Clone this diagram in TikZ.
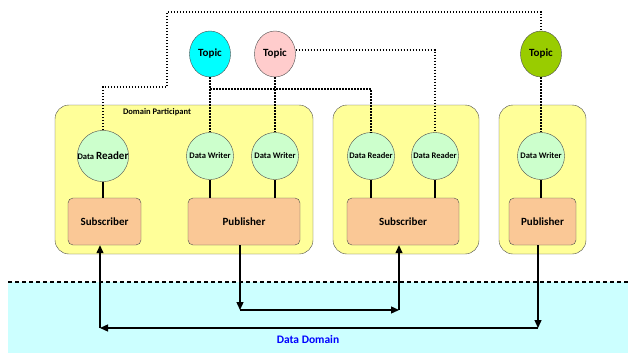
\documentclass[tikz,border=0pt]{standalone}
\usepackage{fontspec}
\setmainfont{Carlito}
\usepackage{tikz}
\usetikzlibrary{shapes.geometric}
\usetikzlibrary{calc,positioning,arrows.meta}

\definecolor{partyellow}{RGB}{255,255,153}
\definecolor{entorange}{RGB}{250,200,150}
\definecolor{endgreen}{RGB}{204,255,204}
\definecolor{topiccyan}{RGB}{0,255,255}
\definecolor{topicpink}{RGB}{255,204,204}
\definecolor{topicgreen}{RGB}{153,204,0}
\definecolor{domaincyan}{RGB}{204,255,255}

\begin{document}
\begin{tikzpicture}[x=1pt,y=-1pt]
 \useasboundingbox (0,0) rectangle (628,353);
 \coordinate (origo) at (0,0);

\tikzstyle{participant}=[draw=black!70,fill=partyellow,rounded corners=14pt,minimum height=149pt]
\tikzstyle{entity}=[draw=black!70,fill=entorange,rounded corners=5pt,minimum height=47pt,font=\bfseries\fontsize{11}{13}\selectfont]
\tikzstyle{endpoint}=[circle,draw=black!70,fill=endgreen,minimum size=47pt,inner sep=0pt,font=\bfseries\fontsize{8.5}{10}\selectfont]
\tikzstyle{topic}=[ellipse,draw=black!70,minimum width=41pt,minimum height=46pt,inner sep=0pt,font=\bfseries\fontsize{11}{13}\selectfont]
\tikzstyle{link}=[line width=1.5pt,dash pattern=on 1.5pt off 1.5pt]
\tikzstyle{flow}=[line width=1.3pt,-{Triangle[length=8pt,width=7pt]}]

   %data domain
    \fill[domaincyan] (8,282) rectangle (628,353);
    \draw[line width=1.3pt,dash pattern=on 4pt off 3pt] (8,282) -- (628,282);
    \node (domain_label) at (308,340) [text=blue,font=\bfseries\fontsize{11.5}{13}\selectfont] {Data Domain};

   %participants
   \node (P1) [participant,minimum width=258pt] at (184,179.5) {};
   \node (P2) [participant,minimum width=146pt] at (406,179.5) {};
   \node (P3) [participant,minimum width=87pt] at (542.5,179.5) {};
    \node (p1_label) at (157,112) [font=\bfseries\fontsize{8.5}{10}\selectfont] {Domain Participant};

   %readers and writers
   \node (dr1) [endpoint] at (103,156) {{\fontsize{8.5}{10}\selectfont Data} {\fontsize{11}{13}\selectfont Reader}};
   \node (dw1) [endpoint] at (210,156) {Data Writer};
   \node (dw2) [endpoint] at (275,156) {Data Writer};
   \node (dr2) [endpoint] at (371,156) {Data Reader};
   \node (dr3) [endpoint] at (435,156) {Data Reader};
   \node (dw3) [endpoint] at (541,156) {Data Writer};

   \node (sub1) [entity,minimum width=73pt] at (104.5,221.5) {Subscriber};
   \node (pub1) [entity,minimum width=112pt] at (244,221.5) {Publisher};
   \node (sub2) [entity,minimum width=112pt] at (403,221.5) {Subscriber};
   \node (pub3) [entity,minimum width=67pt] at (542.5,221.5) {Publisher};

   \foreach \e/\b in {dr1/sub1,dw1/pub1,dw2/pub1,dr2/sub2,dr3/sub2,dw3/pub3}
    \draw[line width=1.3pt] (\e.south) -- (\e.south |- \b.north);

   %topics
   \node (topic1) [topic,fill=topiccyan] at (210,54) {Topic};
   \node (topic2) [topic,fill=topicpink] at (275,54) {Topic};
   \node (topic3) [topic,fill=topicgreen] at (541,54) {Topic};

    \coordinate (bend1) at (167,87);
    \coordinate (bend2) at (210,89);
    \draw[link] (dr1.north) |- (bend1) -- ++(0,-75) -| (topic3.north);
    \draw[link] (topic1.south) -- (dw1.north);
    \draw[link] (topic2.south) -- (dw2.north);
    \draw[link] (bend2) -| (dr2.north);
    \draw[link] ([yshift=4pt]topic2.east) -| (dr3.north);
    \draw[link] (topic3.south) -- (dw3.north);

   %data flow
    \coordinate (m1) at (240,310);
    \coordinate (m2) at (399,310);
    \coordinate (n1) at (538,328);
    \coordinate (n2) at (100,328);
    \draw[flow] ([xshift=-4pt]pub1.south) -- (m1);
    \draw[flow] (m1) -- (m2);
    \draw[flow] (m2) -- ([xshift=-4pt]sub2.south);
    \draw[flow] ([xshift=-4.5pt]pub3.south) -- (n1);
    \draw[flow] (n1) -- (n2);
    \draw[flow] (n2) -- ([xshift=-4.5pt]sub1.south);

\end{tikzpicture}
\end{document}
